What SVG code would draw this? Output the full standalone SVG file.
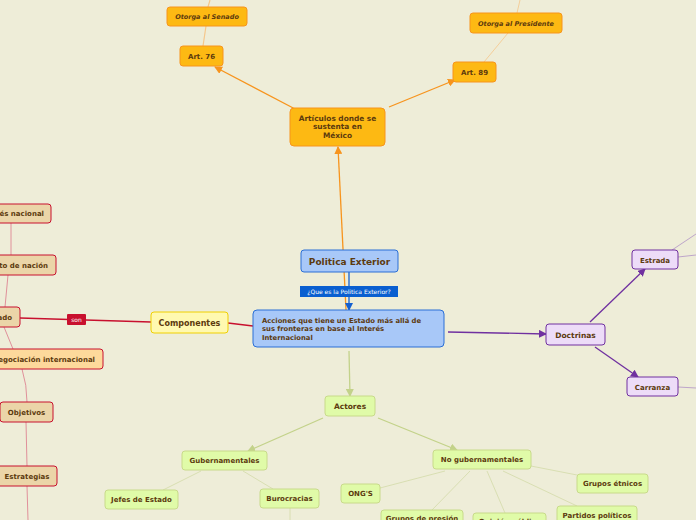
<svg xmlns="http://www.w3.org/2000/svg" width="696" height="520" viewBox="0 0 696 520">
<defs>
<style>
text{font-family:"DejaVu Sans",Verdana,sans-serif;font-weight:bold;fill:#5C3A0E;}
.t{font-size:7px;text-anchor:middle;}
.e{font-size:7px;text-anchor:end;}
.it{font-style:italic;font-size:6.5px;}
.or{fill:#FDB913;stroke:#F7941D;stroke-width:1;}
.bl{fill:#A8C8F8;stroke:#2A6FD6;stroke-width:1;}
.ye{fill:#FFF9B0;stroke:#F0D000;stroke-width:1;}
.rd{fill:#EBD5A8;stroke:#C8102E;stroke-width:1;}
.rd2{fill:#FDD99B;stroke:#C8102E;stroke-width:1;}
.gr{fill:#E0FBA8;stroke:#C8DA8A;stroke-width:1;}
.pu{fill:#EDDCF8;stroke:#7030A0;stroke-width:1;}
.c{fill:none;}
</style>
<marker id="aO" markerWidth="8" markerHeight="8" refX="7" refY="4" orient="auto" markerUnits="userSpaceOnUse"><path d="M0,0 L8,4 L0,8 Z" fill="#F7941D"/></marker>
<marker id="aB" markerWidth="8" markerHeight="8" refX="7" refY="4" orient="auto" markerUnits="userSpaceOnUse"><path d="M0,0 L8,4 L0,8 Z" fill="#1560D0"/></marker>
<marker id="aP" markerWidth="8" markerHeight="8" refX="7" refY="4" orient="auto" markerUnits="userSpaceOnUse"><path d="M0,0 L8,4 L0,8 Z" fill="#7030A0"/></marker>
<marker id="aG" markerWidth="8" markerHeight="8" refX="7" refY="4" orient="auto" markerUnits="userSpaceOnUse"><path d="M0,0 L8,4 L0,8 Z" fill="#C3D28A"/></marker>
</defs>
<rect x="0" y="0" width="696" height="520" fill="#EEEDD8"/>
<g id="connectors" class="c">
<line x1="346" y1="310" x2="338" y2="147" stroke="#F7941D" stroke-width="1.3" marker-end="url(#aO)"/>
<line x1="297" y1="110" x2="215" y2="67" stroke="#F7941D" stroke-width="1.3" marker-end="url(#aO)"/>
<line x1="389" y1="107" x2="455" y2="80" stroke="#F7941D" stroke-width="1.3" marker-end="url(#aO)"/>
<line x1="203" y1="46" x2="206" y2="26" stroke="#F5C78A" stroke-width="1.2"/>
<line x1="208" y1="7" x2="210" y2="0" stroke="#F5C78A" stroke-width="1.2"/>
<line x1="484" y1="62" x2="508" y2="33" stroke="#F5C78A" stroke-width="0.8"/>
<line x1="517" y1="13" x2="520" y2="0" stroke="#F5C78A" stroke-width="0.8"/>
<line x1="349" y1="272" x2="349" y2="310" stroke="#1560D0" stroke-width="1.3" marker-end="url(#aB)"/>
<line x1="253" y1="326" x2="228" y2="323" stroke="#C8102E" stroke-width="1.3"/>
<line x1="151" y1="322" x2="20" y2="318" stroke="#C8102E" stroke-width="1.3"/>
<line x1="5" y1="307" x2="8" y2="275" stroke="#E0909A" stroke-width="1"/>
<line x1="11" y1="255" x2="11" y2="223" stroke="#E0909A" stroke-width="1"/>
<line x1="4" y1="327" x2="13" y2="349" stroke="#E0909A" stroke-width="1"/>
<path d="M22,369 Q27,385 27,402" stroke="#E0909A" stroke-width="1"/>
<line x1="26" y1="422" x2="27" y2="466" stroke="#E0909A" stroke-width="1"/>
<line x1="27" y1="486" x2="28" y2="520" stroke="#E0909A" stroke-width="1"/>
<line x1="448" y1="332" x2="546" y2="334" stroke="#7030A0" stroke-width="1.3" marker-end="url(#aP)"/>
<line x1="590" y1="322" x2="645" y2="269" stroke="#7030A0" stroke-width="1.3" marker-end="url(#aP)"/>
<line x1="595" y1="347" x2="638" y2="377" stroke="#7030A0" stroke-width="1.3" marker-end="url(#aP)"/>
<line x1="672" y1="250" x2="696" y2="234" stroke="#B89CC8" stroke-width="0.9"/>
<line x1="678" y1="257" x2="696" y2="255" stroke="#B89CC8" stroke-width="0.9"/>
<line x1="678" y1="387" x2="696" y2="388" stroke="#B89CC8" stroke-width="0.9"/>
<line x1="349" y1="351" x2="350" y2="396" stroke="#C3D28A" stroke-width="1.3" marker-end="url(#aG)"/>
<line x1="323" y1="418" x2="248" y2="451" stroke="#C3D28A" stroke-width="1.3" marker-end="url(#aG)"/>
<line x1="378" y1="418" x2="457" y2="450" stroke="#C3D28A" stroke-width="1.3" marker-end="url(#aG)"/>
<line x1="201" y1="471" x2="163" y2="490" stroke="#D6DDAE" stroke-width="0.9"/>
<line x1="243" y1="471" x2="273" y2="489" stroke="#D6DDAE" stroke-width="0.9"/>
<line x1="290" y1="508" x2="290" y2="520" stroke="#D6DDAE" stroke-width="0.9"/>
<line x1="445" y1="471" x2="380" y2="488" stroke="#D6DDAE" stroke-width="0.9"/>
<line x1="470" y1="471" x2="432" y2="510" stroke="#D6DDAE" stroke-width="0.9"/>
<line x1="487" y1="471" x2="505" y2="513" stroke="#D6DDAE" stroke-width="0.9"/>
<line x1="503" y1="471" x2="577" y2="506" stroke="#D6DDAE" stroke-width="0.9"/>
<line x1="531" y1="466" x2="577" y2="475" stroke="#D6DDAE" stroke-width="0.9"/>
</g>
<g id="label-que">
<rect x="300" y="286" width="98" height="11" fill="#0A5FD0"/>
<text x="349" y="294" class="t" style="fill:#fff;font-weight:normal;font-size:6px">¿Que es la Politica Exterior?</text>
</g>
<g id="label-son">
<rect x="67" y="314" width="19" height="11" rx="1" fill="#C8102E"/>
<text x="76.5" y="322" class="t" style="fill:#fff;font-weight:normal;font-size:6px">son</text>
</g>
<g id="n-senado"><rect class="or" x="167" y="7" width="80" height="19" rx="3"/><text class="t it" x="207" y="19">Otorga al Senado</text></g>
<g id="n-art76"><rect class="or" x="180" y="46" width="43" height="20" rx="3"/><text class="t" x="201.5" y="58.5">Art. 76</text></g>
<g id="n-presidente"><rect class="or" x="470" y="13" width="92" height="20" rx="3"/><text class="t it" x="516" y="25.5">Otorga al Presidente</text></g>
<g id="n-art89"><rect class="or" x="453" y="62" width="43" height="20" rx="3"/><text class="t" x="474.5" y="74.5">Art. 89</text></g>
<g id="n-articulos"><rect class="or" x="290" y="108" width="95" height="38" rx="4"/><text class="t" x="337.5" y="120.5" style="font-size:7.4px"><tspan x="337.5">Artículos donde se</tspan><tspan x="337.5" dy="8.7">sustenta en</tspan><tspan x="337.5" dy="8.7">México</tspan></text></g>
<g id="n-politica"><rect class="bl" x="301" y="250" width="97" height="22" rx="3"/><text class="t" x="349.5" y="264.5" style="font-size:9px">Politica Exterior</text></g>
<g id="n-acciones"><rect class="bl" x="253" y="310" width="191" height="37" rx="4"/><text x="262" y="322.5" style="font-size:6.8px"><tspan x="262">Acciones que tiene un Estado más allá de</tspan><tspan x="262" dy="8.7">sus fronteras en base al Interés</tspan><tspan x="262" dy="8.7">Internacional</tspan></text></g>
<g id="n-componentes"><rect class="ye" x="151" y="312" width="77" height="21" rx="3"/><text class="t" x="189.5" y="325.5" style="font-size:8px">Componentes</text></g>
<g id="n-estado"><rect class="rd" x="-40" y="307" width="60" height="20" rx="3"/><text class="e" x="12" y="319.5">Estado</text></g>
<g id="n-interes"><rect class="rd" x="-40" y="204" width="91" height="19" rx="3"/><text class="e" x="44" y="216">Interés nacional</text></g>
<g id="n-proyecto"><rect class="rd" x="-40" y="255" width="96" height="20" rx="3"/><text class="e" x="48" y="267.5">Proyecto de nación</text></g>
<g id="n-negociacion"><rect class="rd2" x="-40" y="349" width="143" height="20" rx="3"/><text class="e" x="95" y="361.5">Negociación internacional</text></g>
<g id="n-objetivos"><rect class="rd" x="0" y="402" width="53" height="20" rx="3"/><text class="t" x="26.5" y="414.5">Objetivos</text></g>
<g id="n-estrategias"><rect class="rd" x="-3" y="466" width="60" height="20" rx="3"/><text class="t" x="27" y="478.5">Estrategias</text></g>
<g id="n-doctrinas"><rect class="pu" x="546" y="324" width="59" height="21" rx="3"/><text class="t" x="575.5" y="337.5" style="font-size:7.5px">Doctrinas</text></g>
<g id="n-estrada"><rect class="pu" x="632" y="250" width="46" height="19" rx="3"/><text class="t" x="655" y="262.5">Estrada</text></g>
<g id="n-carranza"><rect class="pu" x="627" y="377" width="51" height="19" rx="3"/><text class="t" x="652.5" y="389.5">Carranza</text></g>
<g id="n-actores"><rect class="gr" x="325" y="396" width="50" height="20" rx="3"/><text class="t" x="350" y="409" style="font-size:7.5px">Actores</text></g>
<g id="n-gub"><rect class="gr" x="182" y="451" width="85" height="19" rx="3"/><text class="t" x="224.5" y="463">Gubernamentales</text></g>
<g id="n-nogub"><rect class="gr" x="433" y="450" width="98" height="19" rx="3"/><text class="t" x="482" y="462">No gubernamentales</text></g>
<g id="n-jefes"><rect class="gr" x="105" y="490" width="73" height="19" rx="3"/><text class="t" x="141.5" y="502">Jefes de Estado</text></g>
<g id="n-buro"><rect class="gr" x="260" y="489" width="59" height="19" rx="3"/><text class="t" x="289.5" y="501">Burocracias</text></g>
<g id="n-ongs"><rect class="gr" x="341" y="484" width="39" height="19" rx="3"/><text class="t" x="360.5" y="496">ONG'S</text></g>
<g id="n-etnicos"><rect class="gr" x="577" y="474" width="71" height="19" rx="3"/><text class="t" x="612.5" y="486">Grupos étnicos</text></g>
<g id="n-presion"><rect class="gr" x="381" y="510" width="82" height="20" rx="3"/><text class="t" x="422" y="521">Grupos de presión</text></g>
<g id="n-opinion"><rect class="gr" x="473" y="513" width="73" height="20" rx="3"/><text class="t" x="509.5" y="524">Opinión pública</text></g>
<g id="n-partidos"><rect class="gr" x="557" y="506" width="80" height="20" rx="3"/><text class="t" x="597" y="518">Partidos políticos</text></g>
</svg>
